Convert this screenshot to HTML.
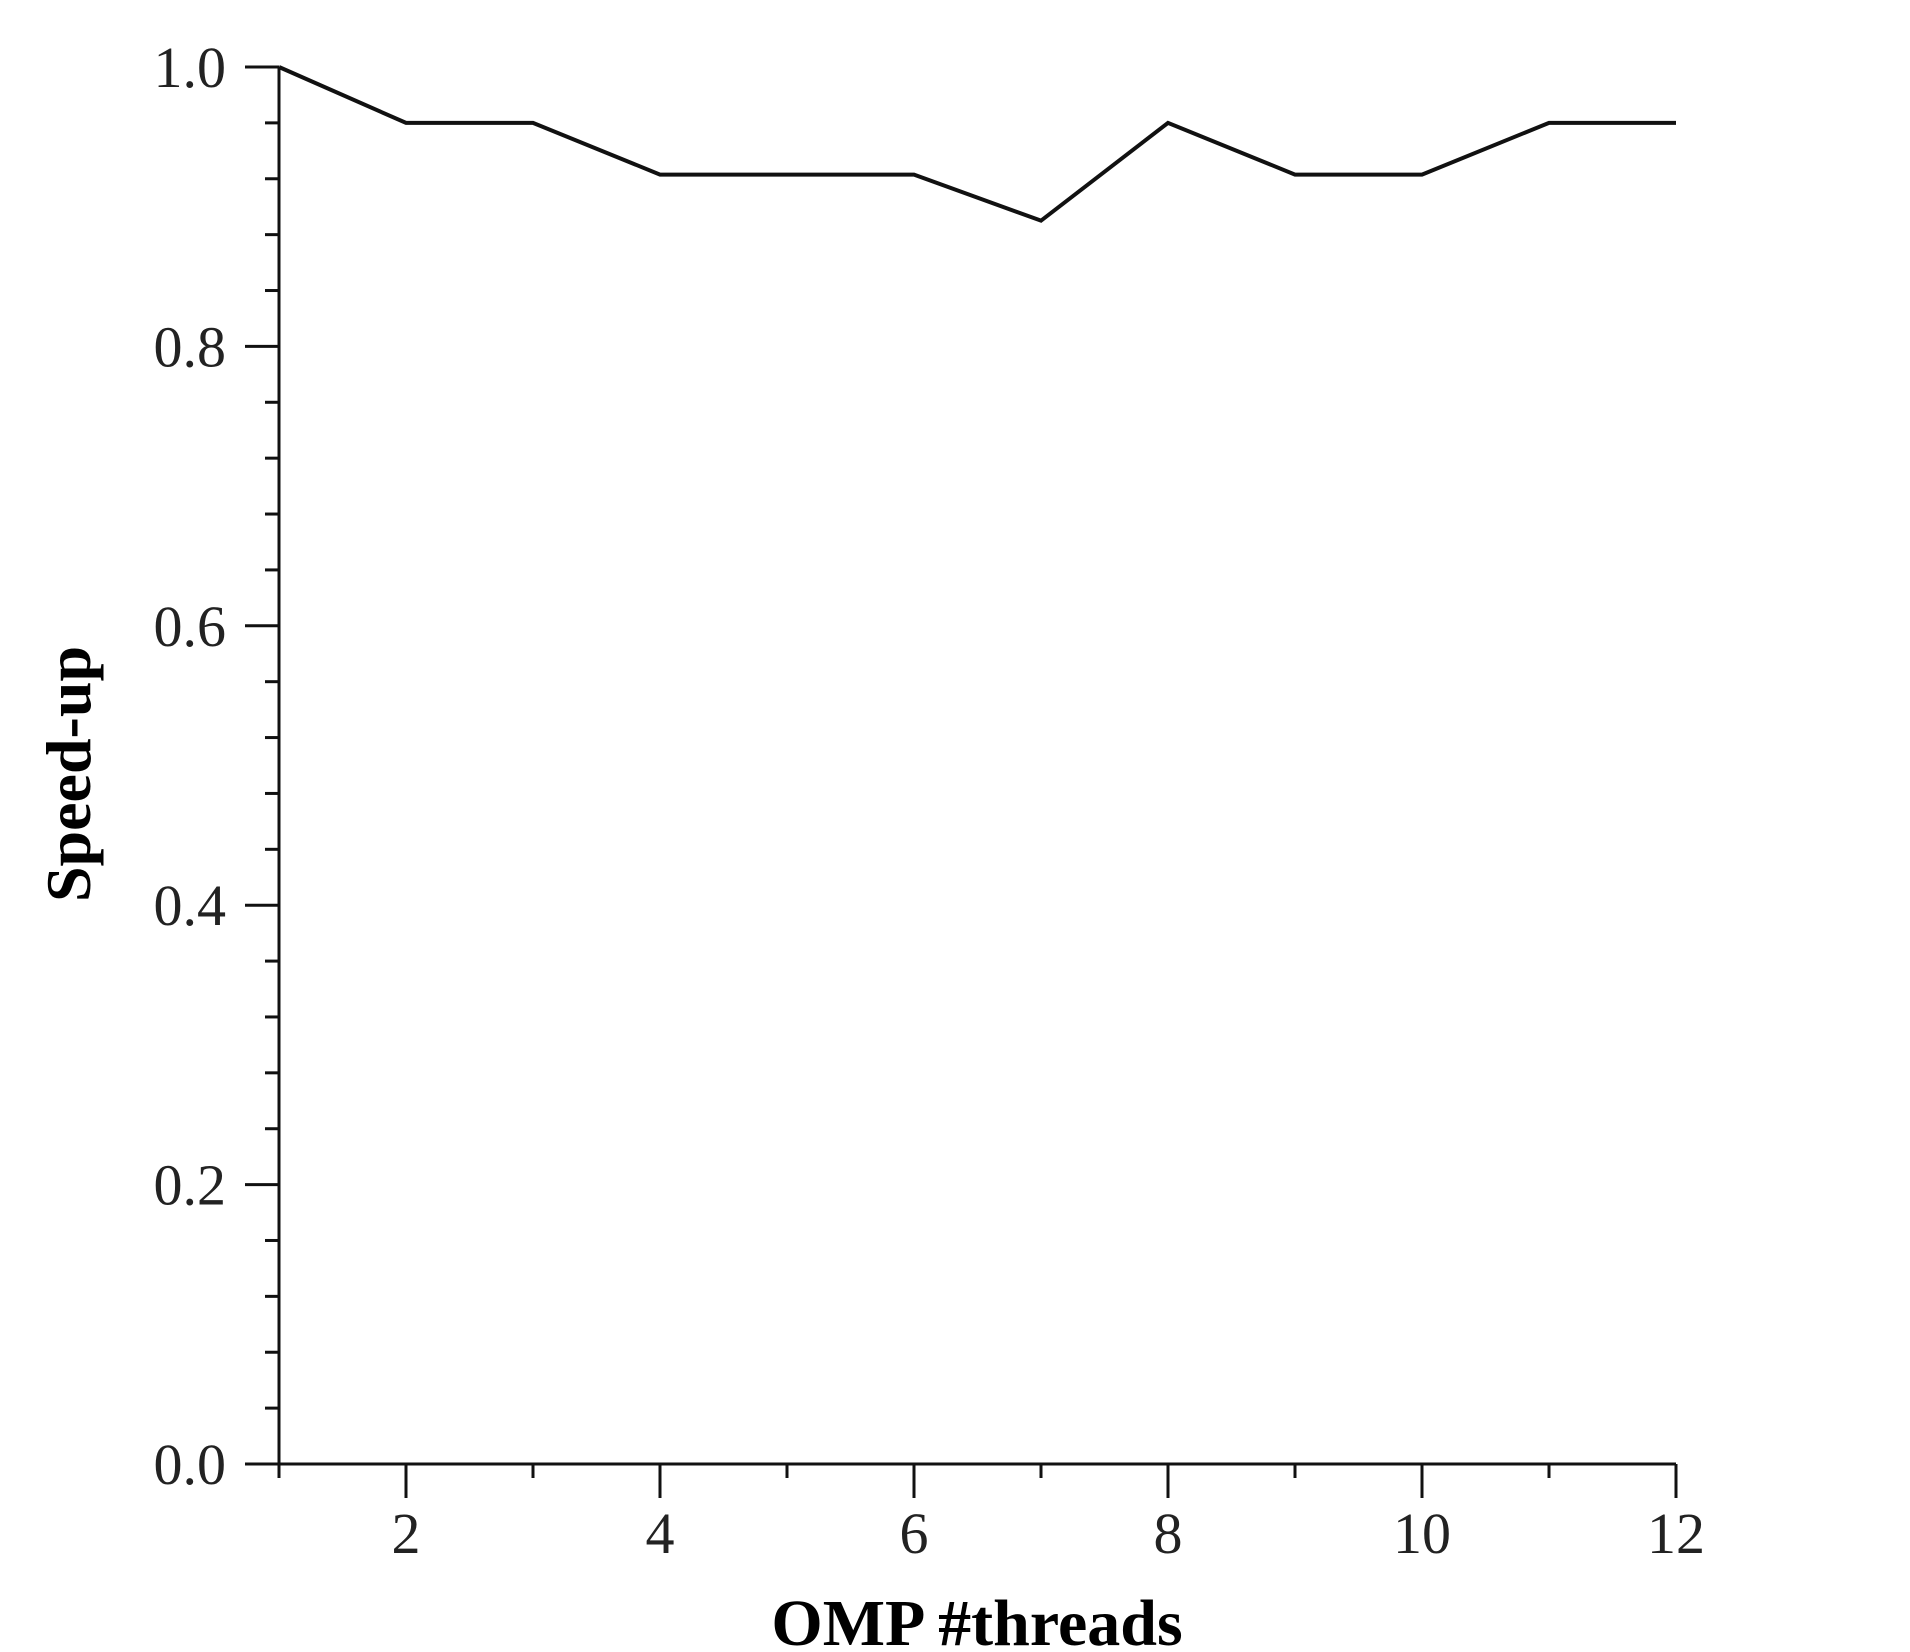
<!DOCTYPE html>
<html><head><meta charset="utf-8"><style>
html,body{margin:0;padding:0;background:#fff;}
svg{display:block;font-family:"Liberation Serif",serif;}
</style></head><body>
<svg id="chart" width="1910" height="1652" viewBox="0 0 1910 1652" xmlns="http://www.w3.org/2000/svg">
<g id="axes"></g>
<g id="series"></g>
<text x="0" y="0" transform="translate(90,774) rotate(-90)" text-anchor="middle" font-weight="bold" font-size="64">Speed-up</text>
<text x="977" y="1645" text-anchor="middle" font-weight="bold" font-size="66">OMP #threads</text>
</svg>
<script>
const threads = [1,2,3,4,5,6,7,8,9,10,11,12];
const speedup = [1.0,0.96,0.96,0.923,0.923,0.923,0.89,0.96,0.923,0.923,0.96,0.96];
const xTickLabels = [2,4,6,8,10,12];
const yTickLabels = ["0.0","0.2","0.4","0.6","0.8","1.0"];
const NS="http://www.w3.org/2000/svg";
const X0=279, XS=127, Y0=1464, YH=1397;
function sx(v){return X0+(v-1)*XS;}
function sy(v){return Y0-v*YH;}
const axes=document.getElementById('axes');
function line(x1,y1,x2,y2,name){const l=document.createElementNS(NS,'line');l.setAttribute('x1',x1);l.setAttribute('y1',y1);l.setAttribute('x2',x2);l.setAttribute('y2',y2);l.setAttribute('stroke','#111');l.setAttribute('stroke-width','3');


axes.appendChild(l);return l;}
line(X0,sy(1),X0,Y0,'y-axis-line');
line(X0,Y0,sx(12),Y0,'x-axis-line');
for(let i=0;i<=25;i++){const v=i*0.04;const major=(i%5===0);line(major?245:265,sy(v),X0,sy(v),major?'y-major-tick':'y-minor-tick');}
for(let t=1;t<=12;t++){const major=(t%2===0);line(sx(t),Y0,sx(t),Y0+(major?34:14),major?'x-major-tick':'x-minor-tick');}
yTickLabels.forEach(s=>{const t=document.createElementNS(NS,'text');t.setAttribute('x',226);t.setAttribute('y',sy(parseFloat(s))+20);t.setAttribute('text-anchor','end');t.setAttribute('font-size','58');t.setAttribute('fill','#222');t.textContent=s;


axes.appendChild(t);});
xTickLabels.forEach(v=>{const t=document.createElementNS(NS,'text');t.setAttribute('x',sx(v));t.setAttribute('y',1553);t.setAttribute('text-anchor','middle');t.setAttribute('font-size','58');t.setAttribute('fill','#222');t.textContent=v;


axes.appendChild(t);});
const p=document.createElementNS(NS,'polyline');
p.setAttribute('points',threads.map((t,i)=>sx(t)+','+sy(speedup[i])).join(' '));
p.setAttribute('fill','none');p.setAttribute('stroke','#111');p.setAttribute('stroke-width','4');p.setAttribute('stroke-linejoin','miter');


document.getElementById('series').appendChild(p);
</script>
</body></html>
